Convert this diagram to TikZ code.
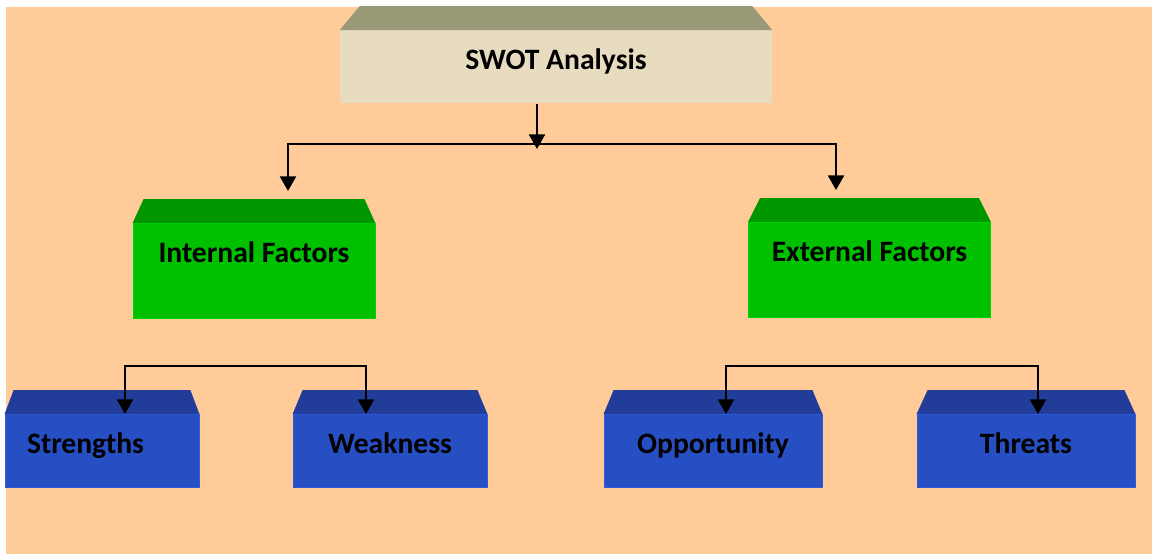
\documentclass[tikz,border=0pt]{standalone}
\usepackage{fontspec}
\setmainfont{Carlito}
\usetikzlibrary{arrows.meta}
\usetikzlibrary{calc}
\definecolor{peach}{HTML}{FFCC99}
\definecolor{swotfront}{HTML}{E7DBC0}
\definecolor{swottop}{HTML}{999977}
\definecolor{greenfront}{HTML}{00C000}
\definecolor{greenedge}{HTML}{00D400}
\definecolor{greentop}{HTML}{009600}
\definecolor{bluefront}{HTML}{274FC4}
\definecolor{blueedge}{HTML}{2F5CDC}
\definecolor{bluetop}{HTML}{213D99}
\tikzstyle{box}=[rectangle,anchor=north,inner sep=0pt,text height=29.25pt,font=\fontsize{22.2}{26}\selectfont\bfseries]
\tikzstyle{swotbox}=[box,fill=swotfront,minimum width=324pt,text depth=25.5pt]
\tikzstyle{greenbox}=[box,fill=greenfront,draw=greenedge,line width=0.6pt,minimum width=181.5pt,text depth=42pt]
\tikzstyle{bluebox}=[box,fill=bluefront,draw=blueedge,line width=0.6pt,text depth=25.5pt]
\tikzstyle{link} = [draw,line width=1.8pt]
\tikzstyle{twoway} = [link,{Triangle[width=12pt,length=11pt]}-{Triangle[width=12pt,length=11pt]}]
\tikzstyle{oneway} = [link,-{Triangle[width=12pt,length=11pt]}]

\begin{document}
\begin{tikzpicture}[x=0.75pt,y=-0.75pt]

\useasboundingbox (0,0) rectangle (1152,554);
\fill[peach] (6,7) rectangle (1152,554);

    \node[swotbox] (swot) at (556,30) {SWOT Analysis};

    \foreach \pos/ \name/ \txt in {{(254,223)/intf/Internal Factors}, {(869.5,222)/extf/External Factors}}
        \node[greenbox] (\name) at \pos {\txt};

    \node[bluebox,inner xsep=16.5pt,text width=112.5pt,align=left] (str) at (102,414) {Strengths};
    \foreach \pos/ \name/ \w/ \txt in {{(390,414)/weak/145.5pt/Weakness}, {(713,414)/opp/163.5pt/Opportunity}, {(1026,414)/thr/163.5pt/Threats}}
        \node[bluebox,minimum width=\w] (\name) at \pos {\txt};

    % slanted tops of the boxes
    \foreach \name/ \d/ \col in {swot/20/swottop, intf/11/greentop, extf/12/greentop, str/9/bluetop, weak/10/bluetop, opp/10/bluetop, thr/11/bluetop}
        \fill[\col] (\name.north west) -- ++(\d,-24) -- ($(\name.north east)+(-\d,-24)$) -- (\name.north east) -- cycle;

    \coordinate (hub) at (537,144);
    \coordinate (lft) at (288,144);
    \coordinate (rgt) at (836,144);
    \coordinate (sw) at (125,366);
    \coordinate (ws) at (366,366);
    \coordinate (ot) at (726,366);
    \coordinate (to) at (1038,366);

    \draw[oneway] (swot.south -| hub) -- ($(hub)+(0,5)$);
    \draw[twoway] ($(intf.north -| lft)+(0,-32)$) |- (rgt) -- ($(extf.north -| rgt)+(0,-32)$);

    \draw[twoway] (str.north -| sw) |- (ws) -- (weak.north -| ws);
    \draw[twoway] (opp.north -| ot) |- (to) -- (thr.north -| to);

\end{tikzpicture}
\end{document}
